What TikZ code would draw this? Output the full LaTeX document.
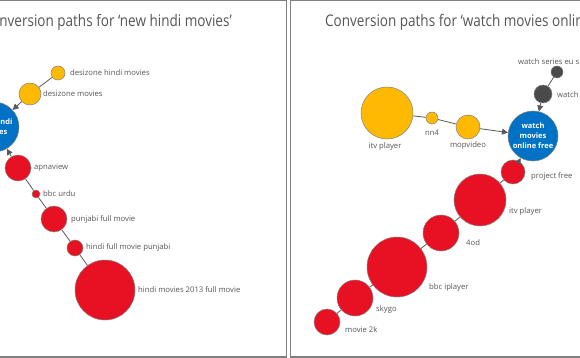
\documentclass[tikz,border=0pt]{standalone}
\usepackage{fontspec}
\setmainfont{Open Sans}
\newfontfamily\titlefont{Open Sans}[FakeStretch=0.845]
\usepackage{xcolor}
\usepackage{tikz}
\usetikzlibrary{arrows.meta}

\definecolor{msyellow}{HTML}{FFB900}
\definecolor{msred}{HTML}{E81123}
\definecolor{msblue}{HTML}{0072C6}
\definecolor{msgray}{HTML}{4A4A4A}
\definecolor{txtgray}{HTML}{555555}
\definecolor{framegray}{HTML}{808080}

\begin{document}
\begin{tikzpicture}[x=1pt, y=-1pt,
    panel/.style={draw=framegray, line width=1.5pt},
    title/.style={font=\titlefont\fontsize{16}{18}\selectfont, text=txtgray, inner sep=0},
    bubble/.style={circle, draw=gray, line width=0.5pt, inner sep=0},
    ybub/.style={bubble, fill=msyellow},
    rbub/.style={bubble, fill=msred},
    gbub/.style={bubble, fill=msgray},
    bbub/.style={bubble, fill=msblue, minimum size=50, align=center, text=white, font=\bfseries\fontsize{7.5}{10}\selectfont},
    lbl/.style={font=\fontsize{7.7}{9}\selectfont, text=txtgray, inner sep=0},
    link/.style={draw=gray!70!black, line width=0.8pt},
    arrow/.style={link, -{Triangle[length=6pt, width=6pt]}}
]
    \useasboundingbox (0,0) rectangle (580,358);
    \clip (0,0) rectangle (580,358);

    % Panels
    \draw[panel] (-10,0.75) rectangle (286.7,357);
    \draw[panel] (290.7,0.75) rectangle (600,357);
    \node[title, anchor=base east] (titleL) at (232,27) {Conversion paths for ‘new hindi movies’};
    \node[title, anchor=base west] (titleR) at (325,27) {Conversion paths for ‘watch movies online free’};

    % Left panel: bubbles
    \node[bbub] (newhindi) at (-6,127) {new hindi\\movies};
    \node[ybub, minimum size=14] (dzhm) at (58,73) {};
    \node[ybub, minimum size=22] (dzm) at (30,94) {};
    \node[rbub, minimum size=26] (apna) at (18,168) {};
    \node[rbub, minimum size=8] (bbcu) at (36,194) {};
    \node[rbub, minimum size=26] (pfm) at (54,219) {};
    \node[rbub, minimum size=16] (hfmp) at (75,248) {};
    \node[rbub, minimum size=60] (hm2013) at (105,290) {};

    % Left panel: labels
    \node[lbl, anchor=west] (dzhmL) at (70,73) {desizone hindi movies};
    \node[lbl, anchor=west] (dzmL) at (43,94) {desizone movies};
    \node[lbl, anchor=west] (apnaL) at (34,168) {apnaview};
    \node[lbl, anchor=west] (bbcuL) at (43,194) {bbc urdu};
    \node[lbl, anchor=west] (pfmL) at (71,219) {punjabi full movie};
    \node[lbl, anchor=west] (hfmpL) at (86,247) {hindi full movie punjabi};
    \node[lbl, anchor=west] (hm2013L) at (138,290) {hindi movies 2013 full movie};

    % Left panel: links
    \draw[link] (dzhm) -- (dzm);
    \draw[arrow] (dzm) -- (newhindi);
    \draw[link] (hm2013) -- (hfmp);
    \draw[link] (hfmp) -- (pfm);
    \draw[link] (pfm) -- (bbcu);
    \draw[link] (bbcu) -- (apna);
    \draw[arrow] (apna) -- (newhindi);

    % Right panel: bubbles
    \node[bbub] (wmof) at (533,136) {watch\\movies\\online free};
    \node[ybub, minimum size=52] (itvY) at (387,113) {};
    \node[ybub, minimum size=12] (nn4) at (432,118) {};
    \node[ybub, minimum size=24] (mop) at (468,127) {};
    \node[gbub, minimum size=12] (wseu) at (557,72) {};
    \node[gbub, minimum size=18] (watch) at (543,94) {};
    \node[rbub, minimum size=24] (pfree) at (513,172) {};
    \node[rbub, minimum size=52] (itvR) at (480,200) {};
    \node[rbub, minimum size=36] (fourod) at (441,233) {};
    \node[rbub, minimum size=60] (bbci) at (397,267) {};
    \node[rbub, minimum size=36] (skygo) at (355,298) {};
    \node[rbub, minimum size=26] (m2k) at (327,322) {};

    % Right panel: labels
    \node[lbl] (itvYL) at (385,147) {itv player};
    \node[lbl] (nn4L) at (432,133) {nn4};
    \node[lbl] (mopL) at (468,146) {mopvideo};
    \node[lbl, anchor=west] (wseuL) at (518,62) {watch series eu s};
    \node[lbl, anchor=west] (watchL) at (557,95) {watch};
    \node[lbl, anchor=west] (pfreeL) at (531,176) {project free};
    \node[lbl, anchor=west] (itvRL) at (509,211) {itv player};
    \node[lbl, anchor=west] (fourodL) at (466,243) {4od};
    \node[lbl, anchor=west] (bbciL) at (429,287) {bbc iplayer};
    \node[lbl, anchor=west] (skygoL) at (376,309) {skygo};
    \node[lbl, anchor=west] (m2kL) at (345,330) {movie 2k};

    % Right panel: links
    \draw[link] (itvY) -- (nn4);
    \draw[link] (nn4) -- (mop);
    \draw[arrow] (mop) -- (wmof);
    \draw[link] (wseu) -- (watch);
    \draw[arrow] (watch) -- (wmof);
    \draw[link] (m2k) -- (skygo);
    \draw[link] (skygo) -- (bbci);
    \draw[link] (bbci) -- (fourod);
    \draw[link] (fourod) -- (itvR);
    \draw[link] (itvR) -- (pfree);
    \draw[arrow] (pfree) -- (wmof);
\end{tikzpicture}
\end{document}
